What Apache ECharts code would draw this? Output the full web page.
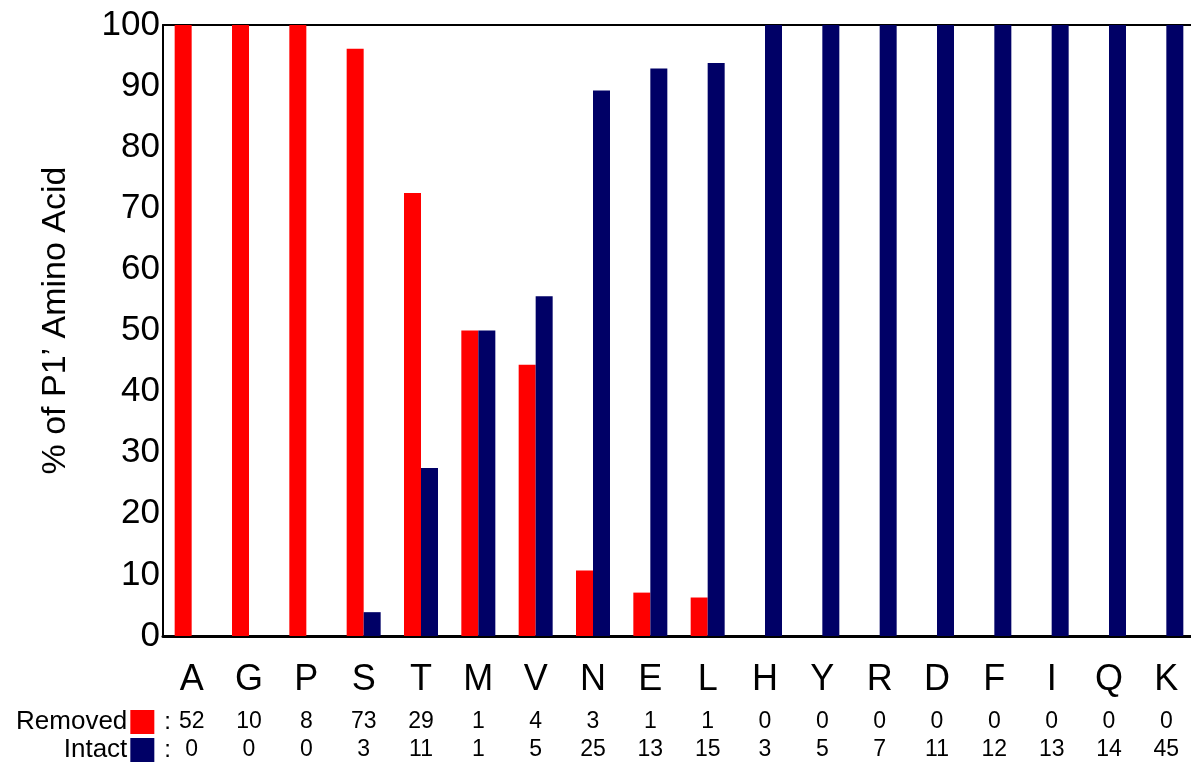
<!DOCTYPE html>
<html lang="en">
<head>
    <meta charset="UTF-8">
    <title>P1' Amino Acid</title>
    <script src="https://cdn.jsdelivr.net/npm/echarts@6/dist/echarts.min.js"></script>
</head>
<body style="margin: 0">
<div id="chart" style="width: 1191px;height: 763px"></div>
<script>
// values
const aminoAcids = ['A', 'G', 'P', 'S', 'T', 'M', 'V', 'N', 'E', 'L', 'H', 'Y', 'R', 'D', 'F', 'I', 'Q', 'K']
const removedPct = [100, 100, 100, 96.1, 72.5, 50, 44.4, 10.7, 7.1, 6.3, 0, 0, 0, 0, 0, 0, 0, 0]
const intactPct = [0, 0, 0, 3.9, 27.5, 50, 55.6, 89.3, 92.9, 93.8, 100, 100, 100, 100, 100, 100, 100, 100]
const removedCount = [52, 10, 8, 73, 29, 1, 4, 3, 1, 1, 0, 0, 0, 0, 0, 0, 0, 0]
const intactCount = [0, 0, 0, 3, 11, 1, 5, 25, 13, 15, 3, 5, 7, 11, 12, 13, 14, 45]
const yTicks = [0, 10, 20, 30, 40, 50, 60, 70, 80, 90, 100]

const RED = '#ff0000'
const NAVY = '#000066'
const FONT = '"Liberation Sans", Arial, sans-serif'

// one extra x axis per table row, label i comes from the counts array
function countRow(label, color, counts, offset) {
    return {
        type: 'category',
        data: aminoAcids,
        position: 'bottom',
        offset: offset,
        axisLine: { show: false },
        axisTick: { show: false },
        axisLabel: {
            margin: 0,
            verticalAlign: 'middle',
            fontSize: 23,
            fontFamily: FONT,
            color: '#000',
            formatter: (v, i) => String(counts[i])
        },
        name: '{t|' + label + '}{s| }{c|:}',
        nameLocation: 'start',
        nameGap: -8,
        nameTextStyle: {
            rich: {
                t: { fontSize: 26, fontFamily: FONT, color: '#000', padding: [0, 3, 0, 0] },
                s: { width: 24, height: 24, backgroundColor: color },
                c: { fontSize: 24, fontFamily: FONT, color: '#000', padding: [0, 0, 0, 10] }
            }
        }
    }
}

const myChart = echarts.init(document.getElementById('chart'))
const option = {
    animation: false,
    backgroundColor: '#fff',
    grid: { left: 163, right: -4, top: 25, bottom: 127, outerBoundsMode: 'none' },
    xAxis: [
        {
            type: 'category',
            data: aminoAcids,
            axisLine: { lineStyle: { color: '#000', width: 3 } },
            axisTick: { show: false },
            axisLabel: { fontSize: 36, fontFamily: FONT, color: '#000', margin: 26 }
        },
        {
            type: 'category',
            data: aminoAcids,
            position: 'top',
            axisLine: { lineStyle: { color: '#000', width: 2 } },
            axisTick: { show: false },
            axisLabel: { show: false }
        },
        countRow('Removed', RED, removedCount, 86),
        countRow('Intact', NAVY, intactCount, 114)
    ],
    yAxis: {
        type: 'value',
        min: yTicks[0],
        max: yTicks[yTicks.length - 1],
        interval: 10,
        name: '% of P1’ Amino Acid',
        nameLocation: 'middle',
        nameRotate: 90,
        nameGap: 90,
        nameTextStyle: { fontSize: 34, fontFamily: FONT, color: '#000', padding: [0, 0, 0, 20] },
        axisLine: { show: true, lineStyle: { color: '#000', width: 2 } },
        axisTick: { show: false },
        splitLine: { show: false },
        axisLabel: { fontSize: 35, fontFamily: FONT, color: '#000', margin: 3 }
    },
    series: [
        {
            name: 'Removed',
            type: 'bar',
            data: removedPct,
            barWidth: 17,
            barGap: '0%',
            itemStyle: { color: RED }
        },
        {
            name: 'Intact',
            type: 'bar',
            data: intactPct,
            barWidth: 17,
            barGap: '0%',
            itemStyle: { color: NAVY }
        }
    ]
}
myChart.setOption(option)
</script>
</body>
</html>
